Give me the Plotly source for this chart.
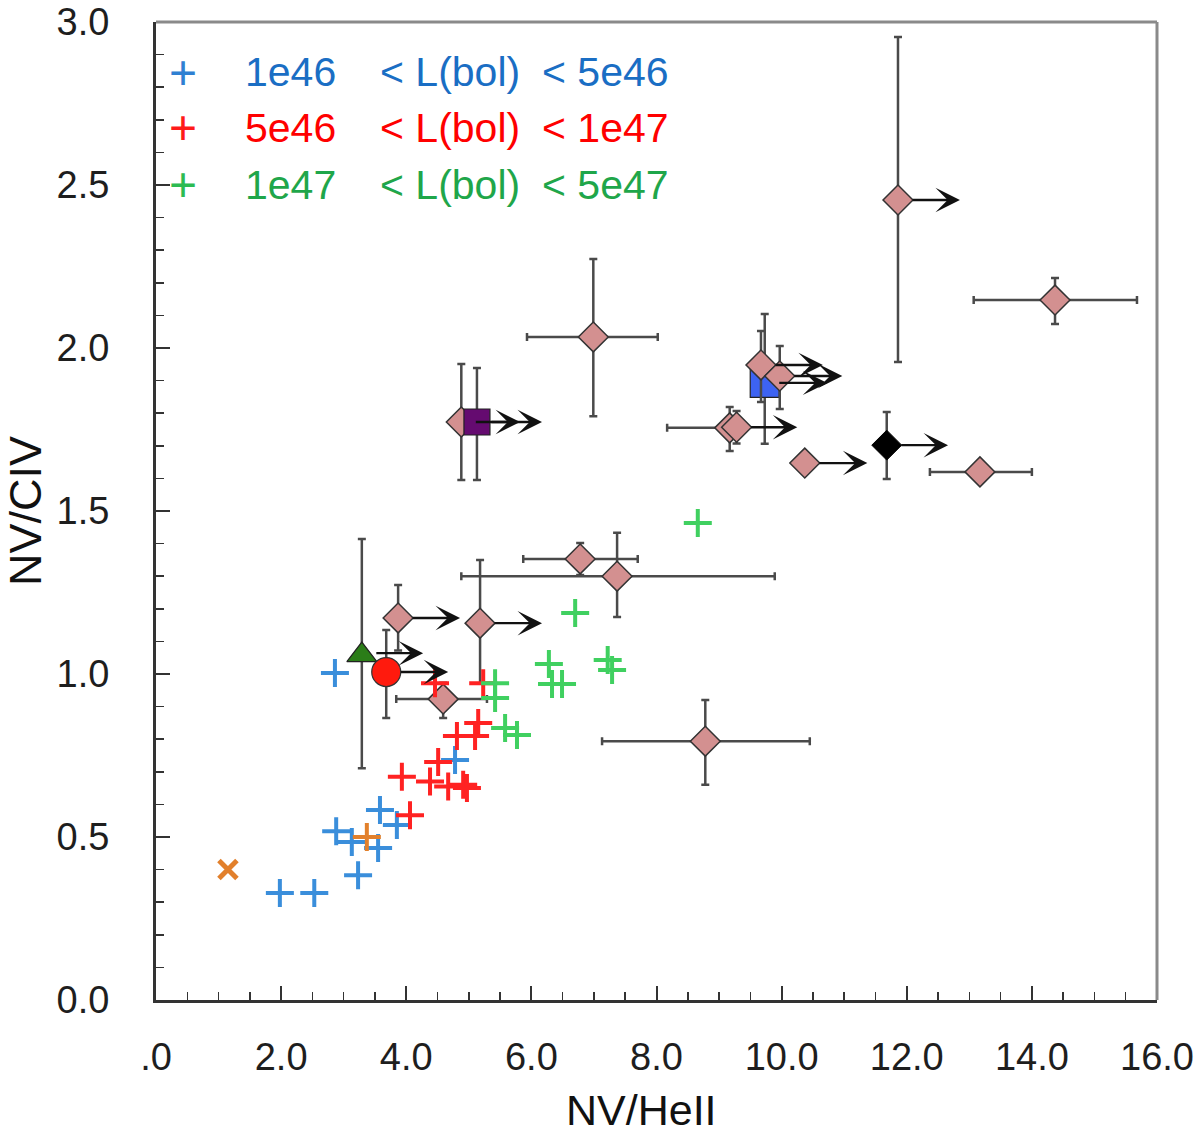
import plotly.graph_objects as go

# ---------------- data ----------------
blue_x = [2.86, 1.98, 2.53, 2.88, 3.13, 3.23, 3.58, 3.55, 3.85, 4.78]
blue_y = [1.003, 0.328, 0.328, 0.518, 0.485, 0.383, 0.583, 0.466, 0.537, 0.736]

red_x = [4.46, 5.23, 5.15, 4.81, 5.10, 4.51, 3.93, 4.38, 4.67, 4.91, 4.97, 4.06]
red_y = [0.972, 0.972, 0.850, 0.810, 0.810, 0.730, 0.685, 0.670, 0.655, 0.660, 0.650, 0.567]

green_x = [5.42, 5.42, 5.58, 5.77, 6.28, 6.33, 6.49, 6.70, 8.66, 7.22, 7.29]
green_y = [0.972, 0.926, 0.834, 0.813, 1.031, 0.969, 0.969, 1.187, 1.463, 1.043, 1.012]

orange_cross_x = [3.37]
orange_cross_y = [0.50]
orange_star_x = [1.15]
orange_star_y = [0.40]

# pink diamonds: x, y, x-err minus, x-err plus, y-err minus, y-err plus
dia_x  = [11.86, 14.37, 6.99, 4.88, 9.67, 9.97, 9.17, 9.28, 10.37, 13.17, 6.78, 7.37, 3.87, 5.18, 4.59, 8.78]
dia_y  = [2.454, 2.147, 2.034, 1.773, 1.948, 1.914, 1.755, 1.757, 1.647, 1.620, 1.353, 1.300, 1.172, 1.156, 0.923, 0.794]
dia_xm = [0.00, 1.30, 1.06, 0.00, 0.00, 0.00, 1.00, 0.00, 0.00, 0.80, 0.91, 2.49, 0.00, 0.00, 0.75, 1.65]
dia_xp = [0.00, 1.31, 1.03, 0.00, 0.00, 0.00, 0.00, 0.00, 0.00, 0.83, 0.92, 2.52, 0.00, 0.00, 0.70, 1.67]
dia_ym = [0.497, 0.073, 0.243, 0.178, 0.114, 0.101, 0.071, 0.050, 0.000, 0.000, 0.049, 0.125, 0.100, 0.184, 0.058, 0.134]
dia_yp = [0.500, 0.068, 0.239, 0.178, 0.104, 0.092, 0.064, 0.050, 0.000, 0.000, 0.049, 0.133, 0.101, 0.194, 0.050, 0.126]

# special symbols
psq_x, psq_y, psq_ym, psq_yp = [5.13], [1.773], [0.178], [0.166]      # purple square
bsq_x, bsq_y, bsq_ym, bsq_yp = [9.73], [1.893], [0.187], [0.211]      # blue square
bdi_x, bdi_y, bdi_ym, bdi_yp = [11.68], [1.702], [0.104], [0.102]     # black diamond
tri_x, tri_y, tri_ym, tri_yp = [3.29], [1.058], [0.347], [0.356]      # green triangle
cir_x, cir_y, cir_ym, cir_yp = [3.68], [1.006], [0.141], [0.129]      # red circle

# lower-limit arrows: start x, y, end x
arr_x0 = [11.86, 4.88, 5.13, 9.67, 9.97, 9.73, 9.28, 10.37, 11.68, 3.87, 5.18, 3.29, 3.68]
arr_y  = [2.454, 1.773, 1.773, 1.948, 1.914, 1.893, 1.757, 1.647, 1.702, 1.172, 1.156, 1.064, 1.006]
arr_x1 = [12.85, 5.82, 6.17, 10.66, 10.97, 10.73, 10.25, 11.37, 12.66, 4.86, 6.17, 4.27, 4.67]

x_tickvals = [0, 2, 4, 6, 8, 10, 12, 14, 16]
x_ticktext = ['.0', '2.0', '4.0', '6.0', '8.0', '10.0', '12.0', '14.0', '16.0']

legend_plus_colors = ['#2f80d2', '#ff1a1a', '#2cbb52']
legend_colors = ['#1a6ec4', '#ff0000', '#1fa64a']
legend_lo = ['1e46', '5e46', '1e47']
legend_mid = ['< L(bol)', '< L(bol)', '< L(bol)']
legend_hi = ['< 5e46', '< 1e47', '< 5e47']

# ---------------- figure ----------------
EC = '#4a4a4a'
FONT = 'Liberation Sans, Arial, sans-serif'
fig = go.Figure()


def ebar(minus, plus):
    return dict(type='data', symmetric=False, array=plus, arrayminus=minus,
                color=EC, thickness=2.5, width=4)


fig.add_trace(go.Scatter(
    x=bsq_x, y=bsq_y, mode='markers',
    marker=dict(symbol='square', size=29, color='#3d63f2', line=dict(color='#222', width=1.2)),
    error_y=ebar(bsq_ym, bsq_yp)))

fig.add_trace(go.Scatter(
    x=dia_x, y=dia_y, mode='markers',
    marker=dict(symbol='diamond', size=23, color='#d39090', line=dict(color='#333', width=1.5)),
    error_x=ebar(dia_xm, dia_xp), error_y=ebar(dia_ym, dia_yp)))

fig.add_trace(go.Scatter(
    x=psq_x, y=psq_y, mode='markers',
    marker=dict(symbol='square', size=26, color='#650b70', line=dict(color='#222', width=1.2)),
    error_y=ebar(psq_ym, psq_yp)))

fig.add_trace(go.Scatter(
    x=bdi_x, y=bdi_y, mode='markers',
    marker=dict(symbol='diamond', size=23, color='#000000', line=dict(color='#000', width=1)),
    error_y=ebar(bdi_ym, bdi_yp)))

fig.add_trace(go.Scatter(
    x=tri_x, y=tri_y, mode='markers',
    marker=dict(symbol='triangle-up', size=26, color='#2b7d18', line=dict(color='#222', width=1.2)),
    error_y=ebar(tri_ym, tri_yp)))

fig.add_trace(go.Scatter(
    x=cir_x, y=cir_y, mode='markers',
    marker=dict(symbol='circle', size=29, color='#ff1a0d', line=dict(color='#333', width=1.2)),
    error_y=ebar(cir_ym, cir_yp)))

cross = dict(symbol='cross-thin', size=20)
fig.add_trace(go.Scatter(x=blue_x, y=blue_y, mode='markers',
                         marker=dict(**cross, line=dict(color='#3a8edb', width=4))))
fig.add_trace(go.Scatter(x=red_x, y=red_y, mode='markers',
                         marker=dict(**cross, line=dict(color='#ff2222', width=4))))
fig.add_trace(go.Scatter(x=green_x, y=green_y, mode='markers',
                         marker=dict(**cross, line=dict(color='#40d060', width=4))))
fig.add_trace(go.Scatter(x=orange_cross_x, y=orange_cross_y, mode='markers',
                         marker=dict(**cross, line=dict(color='#e2802c', width=4))))
fig.add_trace(go.Scatter(x=orange_star_x, y=orange_star_y, mode='markers',
                         marker=dict(symbol='x-thin', size=18, line=dict(color='#e2802c', width=5))))

annotations = []
for x0, y, x1 in zip(arr_x0, arr_y, arr_x1):
    annotations.append(dict(x=x1, y=y, ax=x0, ay=y, xref='x', yref='y', axref='x', ayref='y',
                            text='', showarrow=True, arrowhead=3, arrowsize=1.7, arrowwidth=2.4,
                            arrowcolor='#111', standoff=0, startstandoff=13))

# target plot area in window pixels (page body margin is removed below)
L, R, T, B = 156, 1157, 22, 1000
W, H = 1200, 1139
def px(xp):
    return (xp - L) / (R - L)
def py(yp):
    return (B - yp) / (B - T)

rows = [72, 128, 185]
for i, yp in enumerate(rows):
    annotations.append(dict(x=px(183), y=py(yp), xref='paper', yref='paper', text='+',
                            showarrow=False, xanchor='center', yanchor='middle',
                            font=dict(family=FONT, size=48, color=legend_plus_colors[i])))
    for txt, xp in [(legend_lo[i], 243), (legend_mid[i], 378), (legend_hi[i], 540)]:
        annotations.append(dict(x=px(xp), y=py(yp), xref='paper', yref='paper', text=txt,
                                showarrow=False, xanchor='left', yanchor='middle',
                                font=dict(family=FONT, size=41, color=legend_colors[i])))

# x-axis title (slightly left of the plot centre, as in the reference)
annotations.append(dict(x=px(641), y=py(1110), xref='paper', yref='paper', text='NV/HeII',
                        showarrow=False, xanchor='center', yanchor='middle',
                        font=dict(family=FONT, size=43, color='#111')))

fig.update_layout(
    width=W, height=H,
    margin=dict(l=L, r=W - R, t=T, b=H - B, autoexpand=False),
    paper_bgcolor='white', plot_bgcolor='white',
    showlegend=False, hovermode=False,
    annotations=annotations,
    font=dict(family=FONT, color='#222'),
    shapes=[
        dict(type='line', xref='paper', yref='paper', x0=0, x1=1, y0=1, y1=1,
             line=dict(color='#8a8a8a', width=3)),
        dict(type='line', xref='paper', yref='paper', x0=1, x1=1, y0=0, y1=1,
             line=dict(color='#8a8a8a', width=3)),
    ],
)

fig.update_xaxes(
    range=[0, 16], tickvals=x_tickvals, ticktext=x_ticktext,
    showgrid=False, zeroline=False, automargin=False,
    showline=True, linecolor='#333', linewidth=3,
    ticks='inside', ticklen=14, tickwidth=2, tickcolor='#333',
    minor=dict(dtick=0.5, ticks='inside', ticklen=8, tickwidth=1.5, tickcolor='#333'),
    tickfont=dict(family=FONT, size=38, color='#1e1e1e'),
    ticklabelstandoff=21, ticklabeloverflow='allow',
)
fig.update_yaxes(
    range=[0, 3.0], dtick=0.5, tickformat='.1f',
    showgrid=False, zeroline=False, automargin=False,
    showline=True, linecolor='#333', linewidth=3,
    ticks='inside', ticklen=14, tickwidth=2, tickcolor='#333',
    minor=dict(dtick=0.1, ticks='inside', ticklen=8, tickwidth=1.5, tickcolor='#333'),
    tickfont=dict(family=FONT, size=38, color='#1e1e1e'),
    ticklabelstandoff=36, ticklabeloverflow='allow',
    title=dict(text='NV/CIV', font=dict(family=FONT, size=45, color='#111'), standoff=2),
)

fig.write_html('out.html', config={'displayModeBar': False, 'staticPlot': True},
               post_script="document.body.style.margin='0';document.body.style.overflow='hidden';")
